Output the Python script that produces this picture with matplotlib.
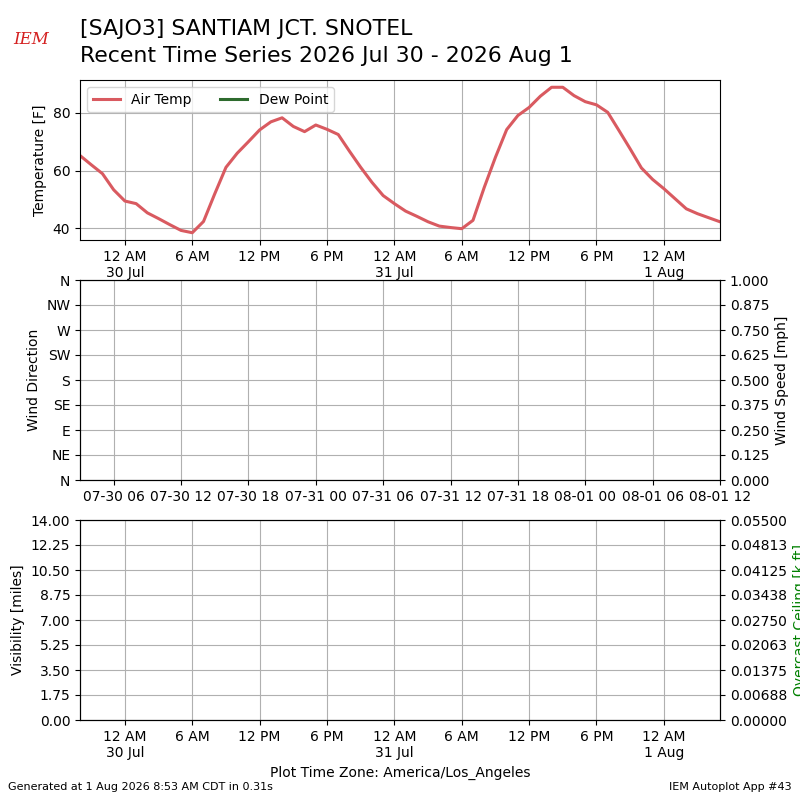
import datetime as dt
import matplotlib
matplotlib.use("Agg")
import matplotlib.pyplot as plt
import matplotlib.dates as mdates
from matplotlib.ticker import FixedLocator, FuncFormatter, FormatStrFormatter

# ---- data ----
start_local = dt.datetime(2026, 7, 29, 20, 0)  # America/Los_Angeles (PDT)
air_temp = [65.2, 62.0, 58.9, 53.3, 49.4, 48.5, 45.3, 43.3, 41.2, 39.2,
            38.4, 42.3, 51.9, 61.1, 66.0, 70.0, 74.1, 76.9, 78.3, 75.3,
            73.5, 75.8, 74.3, 72.5, 66.7, 61.1, 55.9, 51.3, 48.5, 45.9,
            44.1, 42.2, 40.7, 40.2, 39.8, 42.7, 54.1, 64.6, 74.2, 79.1,
            81.9, 85.8, 88.9, 88.9, 86.0, 83.9, 82.8, 80.2, 73.9, 67.5,
            60.9, 56.9, 53.7, 50.2, 46.7, 45.0, 43.6, 42.2]
dew_point = []
dir_labels = ["N", "NE", "E", "SE", "S", "SW", "W", "NW", "N"]
dir_ticks = [0, 45, 90, 135, 180, 225, 270, 315, 360]
speed_ticks = [0.0, 0.125, 0.25, 0.375, 0.5, 0.625, 0.75, 0.875, 1.0]
vis_ticks = [0, 1.75, 3.5, 5.25, 7.0, 8.75, 10.5, 12.25, 14.0]
ceil_ticks = [0, 0.006875, 0.01375, 0.020625, 0.0275, 0.034375, 0.04125, 0.048125, 0.055]

pdt = dt.timezone(dt.timedelta(hours=-7), "PDT")
times = [(start_local + dt.timedelta(hours=i)).replace(tzinfo=pdt) for i in range(len(air_temp))]
xmin, xmax = times[0], times[-1]

fig = plt.figure(figsize=(8, 8), dpi=100)
ax1 = fig.add_axes([0.1, 0.7, 0.8, 0.2])
ax2 = fig.add_axes([0.1, 0.4, 0.8, 0.25])
ax3 = fig.add_axes([0.1, 0.1, 0.8, 0.25])


def local_fmt(x, pos=None):
    d = mdates.num2date(x, tz=pdt)
    if d.hour == 0:
        return "12 AM\n%d %s" % (d.day, d.strftime("%b"))
    h = d.hour % 12
    if h == 0:
        h = 12
    return "%d %s" % (h, "AM" if d.hour < 12 else "PM")


def local_axis(ax):
    ax.xaxis.set_major_locator(mdates.HourLocator(byhour=[0, 6, 12, 18], tz=pdt))
    ax.xaxis.set_major_formatter(FuncFormatter(local_fmt))


# ---- temperature ----
ax1.plot(times, air_temp, color="#d95a60", lw=2.2, label="Air Temp")
ax1.plot([], [], color="#2e6b2e", lw=2.2, label="Dew Point")
ax1.set_xlim(xmin, xmax)
ax1.set_ylabel("Temperature [F]")
local_axis(ax1)
ax1.grid(True)
ax1.legend(loc="upper left", ncol=2)

# ---- wind ----
ax2.set_xlim(xmin, xmax)
ax2.set_ylim(0, 360)
ax2.yaxis.set_major_locator(FixedLocator(dir_ticks))
ax2.set_yticklabels(dir_labels)
ax2.set_ylabel("Wind Direction")
ax2.grid(True)
ax2b = ax2.twinx()
ax2b.set_ylim(0, 1)
ax2b.yaxis.set_major_locator(FixedLocator(speed_ticks))
ax2b.yaxis.set_major_formatter(FormatStrFormatter("%.3f"))
ax2b.set_ylabel("Wind Speed [mph]")
ax2.xaxis.set_major_locator(mdates.HourLocator(byhour=[0, 6, 12, 18], tz=dt.timezone.utc))
ax2.xaxis.set_major_formatter(mdates.DateFormatter("%m-%d %H", tz=dt.timezone.utc))

# ---- visibility / ceiling ----
ax3.set_xlim(xmin, xmax)
ax3.set_ylim(0, 14)
ax3.yaxis.set_major_locator(FixedLocator(vis_ticks))
ax3.yaxis.set_major_formatter(FormatStrFormatter("%.2f"))
ax3.set_ylabel("Visibility [miles]")
ax3.grid(True)
local_axis(ax3)
ax3.set_xlabel("Plot Time Zone: America/Los_Angeles")
ax3b = ax3.twinx()
ax3b.set_ylim(0, 0.055)
ax3b.yaxis.set_major_locator(FixedLocator(ceil_ticks))
ax3b.yaxis.set_major_formatter(FormatStrFormatter("%.5f"))
ax3b.set_ylabel("Overcast Ceiling [k ft]", color="green")

# ---- texts ----
fig.text(0.1, 0.976, "[SAJO3] SANTIAM JCT. SNOTEL\nRecent Time Series 2026 Jul 30 - 2026 Aug 1",
         fontsize=15.8, va="top", ha="left", linespacing=1.42)
fig.text(0.016, 0.94, "IEM", color="#d42020", fontsize=12, fontstyle="italic",
         family="serif", va="bottom", ha="left")
fig.text(0.01, 0.01, "Generated at 1 Aug 2026 8:53 AM CDT in 0.31s", fontsize=8, ha="left", va="bottom")
fig.text(0.99, 0.01, "IEM Autoplot App #43", fontsize=8, ha="right", va="bottom")

fig.savefig("out.png", dpi=100)
